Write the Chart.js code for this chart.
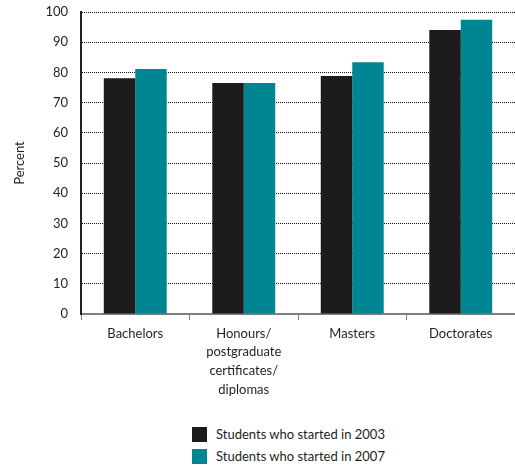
<!DOCTYPE html>
<html>
<head>
<meta charset="utf-8">
<script src="https://cdn.jsdelivr.net/npm/chart.js@4/dist/chart.umd.min.js"></script>
<style>
  body { margin: 0; background: #fff; }
  #wrap { position: relative; width: 515px; height: 469px; }
  #legend { position: absolute; left: 192px; top: 423px; font-family: Lato, sans-serif; font-size: 13px; color: #231f20; }
  .item { display: flex; align-items: center; height: 22px; }
  .box { width: 15px; height: 15px; margin-right: 9px; }
</style>
</head>
<body>
<div id="wrap">
  <canvas id="chart" width="515" height="405"></canvas>
  <div id="legend"></div>
</div>
<script>
// categories (multi-line labels as arrays)
const categories = [
  'Bachelors',
  ['Honours/', 'postgraduate', 'certificates/', 'diplomas'],
  'Masters',
  'Doctorates'
];

// percent of students
const started2003 = [78.1, 76.5, 78.8, 94.0];
const started2007 = [81.1, 76.5, 83.4, 97.4];

const seriesNames = ['Students who started in 2003', 'Students who started in 2007'];
const yTicks = [0, 10, 20, 30, 40, 50, 60, 70, 80, 90, 100];

const textColor = '#231f20';
const font = { family: 'Lato', size: 13 };

const chart = new Chart(document.getElementById('chart'), {
  type: 'bar',
  data: {
    labels: categories,
    datasets: [
      { label: seriesNames[0], data: started2003, backgroundColor: '#1d1b1e' },
      { label: seriesNames[1], data: started2007, backgroundColor: '#008693' }
    ]
  },
  options: {
    responsive: false,
    animation: false,
    layout: { padding: { top: 12, left: 0, right: 0, bottom: 0 } },
    datasets: { bar: { barPercentage: 1, categoryPercentage: 0.58 } },
    plugins: {
      legend: { display: false },
      tooltip: { enabled: false }
    },
    scales: {
      x: {
        grid: { drawOnChartArea: false, drawTicks: true, tickLength: 6, color: '#808080', lineWidth: 1 },
        border: { display: true, color: '#808080', width: 2 },
        ticks: { color: textColor, font: { family: 'Lato', size: 13, lineHeight: 1.45 }, padding: 4, maxRotation: 0, autoSkip: false },
        afterFit: function (scale) { scale.height = 91; }
      },
      y: {
        min: 0,
        max: 100,
        afterBuildTicks: function (scale) { scale.ticks = yTicks.map(v => ({ value: v })); },
        // invisible tick marks give the label gap without padding the top of the axis
        grid: { drawTicks: true, tickLength: 13, tickColor: 'rgba(0,0,0,0)', color: '#111', lineWidth: 1 },
        border: { display: true, color: textColor, width: 2, dash: [1, 1] },
        ticks: { color: textColor, font: font, padding: 0 },
        title: { display: true, text: 'Percent', color: textColor, font: font, padding: { top: 12, bottom: 0 } },
        afterFit: function (scale) { scale.width = 81; }
      }
    }
  }
});

// legend stacked vertically under the chart
const legend = document.getElementById('legend');
chart.data.datasets.forEach(function (ds) {
  const item = document.createElement('div');
  item.className = 'item';
  const box = document.createElement('span');
  box.className = 'box';
  box.style.background = ds.backgroundColor;
  const label = document.createElement('span');
  label.textContent = ds.label;
  item.appendChild(box);
  item.appendChild(label);
  legend.appendChild(item);
});
</script>
</body>
</html>
